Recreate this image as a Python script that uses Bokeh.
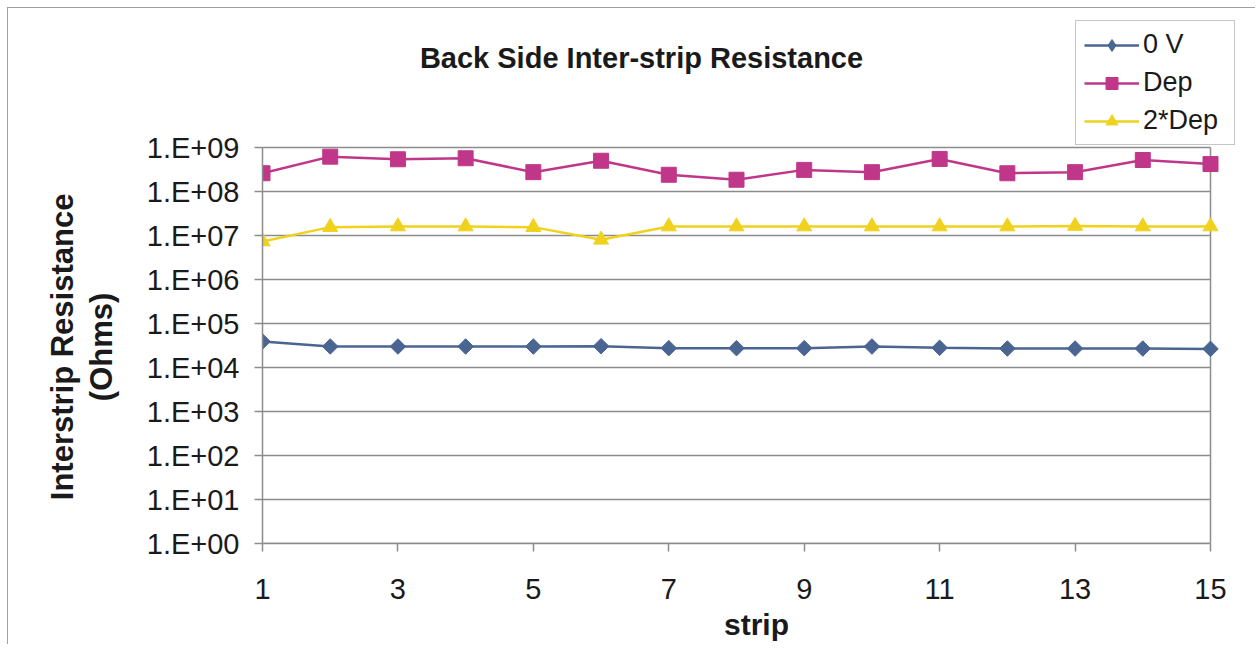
import math
from bokeh.plotting import figure
from bokeh.models import (FixedTicker, CustomJSTickFormatter, Legend, LegendItem, Range1d, Label)
from bokeh.embed import file_html
from bokeh.resources import INLINE

strips = [1, 2, 3, 4, 5, 6, 7, 8, 9, 10, 11, 12, 13, 14, 15]
v0 = [3.9e4, 3.0e4, 3.0e4, 3.0e4, 3.0e4, 3.05e4, 2.75e4, 2.75e4, 2.75e4, 3.0e4, 2.8e4, 2.7e4, 2.7e4, 2.7e4, 2.65e4]
dep = [2.6e8, 6.2e8, 5.4e8, 5.7e8, 2.75e8, 5.0e8, 2.4e8, 1.85e8, 3.1e8, 2.75e8, 5.5e8, 2.6e8, 2.75e8, 5.2e8, 4.2e8]
dep2 = [7.3e6, 1.55e7, 1.6e7, 1.6e7, 1.55e7, 8.0e6, 1.6e7, 1.6e7, 1.6e7, 1.6e7, 1.6e7, 1.6e7, 1.65e7, 1.6e7, 1.6e7]
x_ticks = [1, 3, 5, 7, 9, 11, 13, 15]
y_ticks = [1e0, 1e1, 1e2, 1e3, 1e4, 1e5, 1e6, 1e7, 1e8, 1e9]
series_names = ["0 V", "Dep", "2*Dep"]
title_text = "Back Side Inter-strip Resistance"
y_label_lines = ["Interstrip Resistance", "(Ohms)"]
x_label = "strip"

FONT = "Liberation Sans"
GRID = "#8c8c8c"
TXT = "#1a1a1a"

# layout (pixels)
W, H = 1248, 637
ML, MR, MT, MB = 254, 6, 4, 102
plot_px_w = 948          # pixel width of strips[0]..strips[-1]
plot_px_h = 396          # pixel height of y_ticks[0]..y_ticks[-1]
frame_w = W - ML - MR
frame_h = H - MT - MB
x0, x1 = strips[0], strips[-1]
x_end = x0 + (x1 - x0) * frame_w / plot_px_w
ly0, ly1 = math.log10(y_ticks[0]), math.log10(y_ticks[-1])
y_end = 10 ** (ly0 + (ly1 - ly0) * frame_h / plot_px_h)

p = figure(width=W, height=H, output_backend="svg", toolbar_location=None,
           y_axis_type="log", x_range=Range1d(x0, x_end), y_range=Range1d(y_ticks[0], y_end),
           min_border_left=ML, min_border_right=MR, min_border_top=MT, min_border_bottom=MB)
p.styles = {"margin-left": "7px", "margin-top": "7px",
            "border-left": "1px solid #a0a0a0", "border-top": "1px solid #a0a0a0"}

p.background_fill_color = "white"
p.border_fill_color = "white"
p.outline_line_color = None
p.xgrid.visible = False
p.ygrid.visible = False

# horizontal grid lines and right frame edge, limited to the data span
p.segment(x0=[x0] * len(y_ticks), x1=[x1] * len(y_ticks), y0=y_ticks, y1=y_ticks,
          line_color=GRID, line_width=1.5)
p.segment(x0=[x1], x1=[x1], y0=[y_ticks[0]], y1=[y_ticks[-1]], line_color=GRID, line_width=1.5)

p.xaxis.ticker = FixedTicker(ticks=x_ticks)
p.yaxis.ticker = FixedTicker(ticks=y_ticks, minor_ticks=[])
p.xaxis.bounds = (x0, x1)
p.yaxis.bounds = (y_ticks[0], y_ticks[-1])
p.yaxis.formatter = CustomJSTickFormatter(code="""
const e = Math.round(Math.log10(tick));
const s = e >= 0 ? "+" : "-";
return "1.E" + s + String(Math.abs(e)).padStart(2, "0");
""")

for ax in (p.xaxis[0], p.yaxis[0]):
    ax.axis_line_color = GRID
    ax.axis_line_width = 1.5
    ax.major_tick_line_color = GRID
    ax.major_tick_line_width = 1.5
    ax.major_tick_out = 8
    ax.major_tick_in = 0
    ax.minor_tick_line_color = None
    ax.major_label_text_font = FONT
    ax.major_label_text_font_size = "29px"
    ax.major_label_text_color = TXT
    ax.axis_label_text_font = FONT
    ax.axis_label_text_font_style = "bold"
    ax.axis_label_text_color = TXT

p.xaxis.axis_label = x_label
p.xaxis.axis_label_text_font_size = "30px"
p.xaxis.major_label_standoff = 27
p.xaxis.axis_label_standoff = 6

# the axis label is centred on the whole (extended) frame; pad with no-break
# spaces so that the visible words sit centred on the data area
pad = "\u00a0" * 16
p.yaxis.axis_label = "\n".join(line + pad for line in y_label_lines)
p.yaxis.axis_label_text_font_size = "31px"
p.yaxis.axis_label_text_line_height = 1.1
p.yaxis.major_label_standoff = 15
p.yaxis.axis_label_standoff = 25

# title as a label inside the (extended) frame
title_x = x0 + (x1 - x0) * (641 - 262) / plot_px_w
title_y = 10 ** (ly0 + (ly1 - ly0) * (543 - 57) / plot_px_h)
p.add_layout(Label(x=title_x, y=title_y, text=title_text, text_font=FONT,
                   text_font_size="29px", text_font_style="bold", text_color=TXT,
                   text_align="center", text_baseline="middle"))

colors = ["#4a6591", "#c0378a", "#f0d21e"]
markers = ["square", "square", "triangle"]
angles = [math.pi / 4, 0, 0]
sizes = [11, 15, 15]
legend_markers = ["diamond", "square", "triangle"]
legend_sizes = [16, 15, 15]
data = [v0, dep, dep2]

items = []
for name, ys, c, m, a, s, lm, ls in zip(series_names, data, colors, markers, angles, sizes,
                                        legend_markers, legend_sizes):
    ln = p.line(strips, ys, line_color=c, line_width=2.5)
    sc = p.scatter(strips, ys, marker=m, angle=a, size=s, fill_color=c, line_color=c)
    # legend-only proxy (markers in legends are not rotated)
    proxy = p.scatter(strips, ys, marker=lm, size=ls, fill_color=c, line_color=c, visible=False)
    items.append(LegendItem(label=name, renderers=[ln, proxy]))

legend = Legend(items=items, location=(1075 - 262, 543 - 145))
legend.label_text_font = FONT
legend.label_text_font_size = "27px"
legend.label_text_color = TXT
legend.glyph_width = 55
legend.glyph_height = 30
legend.label_height = 30
legend.label_width = 83
legend.label_standoff = 4
legend.spacing = 7
legend.padding = 8
legend.margin = 0
legend.click_policy = "none"
legend.border_line_color = GRID
legend.border_line_width = 1.5
legend.background_fill_color = "white"
legend.background_fill_alpha = 1.0
p.add_layout(legend, "center")

with open("out.html", "w") as f:
    f.write(file_html(p, INLINE))
